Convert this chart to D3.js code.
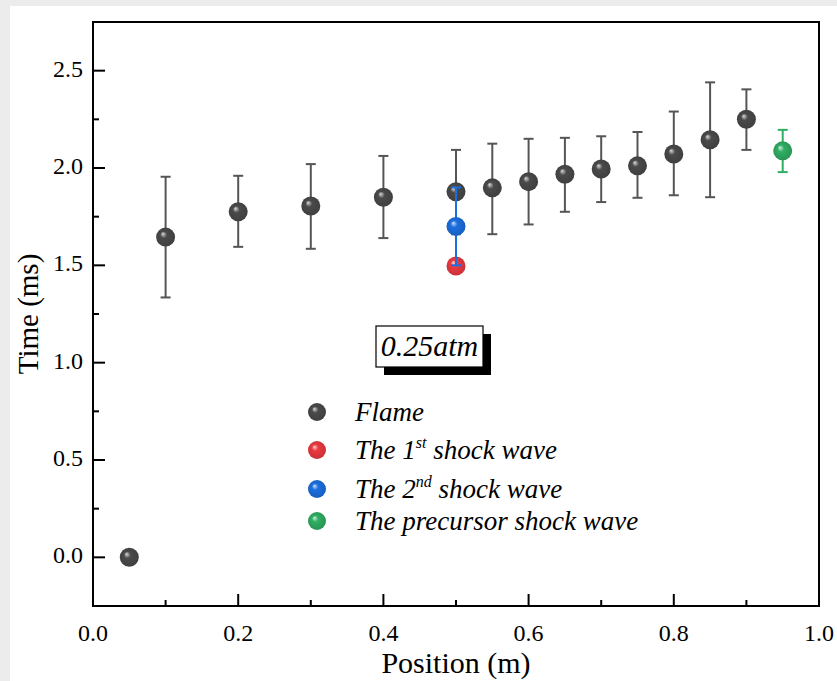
<!DOCTYPE html>
<html>
<head>
<meta charset="utf-8">
<script src="https://cdn.jsdelivr.net/npm/d3@7"></script>
<style>
  html, body { margin: 0; padding: 0; background: #ececec; }
  svg { display: block; }
</style>
</head>
<body>
<script>
var width = 837,
    height = 681;

// flame arrival times with error bar limits
var flameX   = [0.05, 0.1, 0.2, 0.3, 0.4, 0.5, 0.55, 0.6, 0.65, 0.7, 0.75, 0.8, 0.85, 0.9];
var flameY   = [0.0, 1.645, 1.775, 1.805, 1.85, 1.878, 1.898, 1.93, 1.968, 1.995, 2.011, 2.072, 2.145, 2.25];
var flameLo  = [null, 1.335, 1.595, 1.585, 1.64, 1.66, 1.66, 1.71, 1.775, 1.825, 1.847, 1.86, 1.85, 2.093];
var flameHi  = [null, 1.955, 1.96, 2.02, 2.062, 2.093, 2.125, 2.15, 2.155, 2.163, 2.185, 2.29, 2.44, 2.404];

var shock1 = [{x: 0.5, y: 1.497}];
var shock2 = [{x: 0.5, y: 1.70, lo: 1.50, hi: 1.90}];
var precursor = [{x: 0.95, y: 2.088, lo: 1.979, hi: 2.196}];

var xTicks = [0.0, 0.2, 0.4, 0.6, 0.8, 1.0];
var yTicks = [0.0, 0.5, 1.0, 1.5, 2.0, 2.5];

var legendNames = ["Flame", "The 1|st| shock wave", "The 2|nd| shock wave", "The precursor shock wave"];
var colors = ["#4a4a4a", "#ec3a40", "#1c6fe0", "#2fae63"];

var font = "'Liberation Serif', 'Times New Roman', Tinos, 'DejaVu Serif', serif";

var margin = {left: 93, right: 18, top: 22, bottom: 75};

var x = d3.scaleLinear().domain([0, 1.0]).range([margin.left, width - margin.right]);
var y = d3.scaleLinear().domain([-0.25, 2.75]).range([height - margin.bottom, margin.top]);

var svg = d3.select("body").append("svg")
    .attr("width", width)
    .attr("height", height)
    .attr("font-family", font);

svg.append("rect")
    .attr("x", 10).attr("y", 6)
    .attr("width", width - 10).attr("height", height - 6)
    .attr("fill", "#fff");

// sphere shading
var defs = svg.append("defs");
colors.forEach(function(c, i) {
  var g = defs.append("radialGradient")
      .attr("id", "ball" + i)
      .attr("cx", "50%").attr("cy", "50%").attr("r", "55%")
      .attr("fx", "35%").attr("fy", "32%");
  g.append("stop").attr("offset", "0%").attr("stop-color", d3.interpolateRgb(c, "#fff")(0.8));
  g.append("stop").attr("offset", "32%").attr("stop-color", c);
  g.append("stop").attr("offset", "100%").attr("stop-color", d3.color(c).darker(0.5));
});

var flame = flameX.map(function(d, i) {
  return {x: d, y: flameY[i], lo: flameLo[i], hi: flameHi[i]};
});

// axes (inward ticks)
var xAxis = svg.append("g")
    .attr("transform", "translate(0," + y(-0.25) + ")");
xAxis.selectAll(".major").data(xTicks).enter().append("line")
    .attr("x1", function(d) { return x(d); }).attr("x2", function(d) { return x(d); })
    .attr("y1", 0).attr("y2", -12)
    .attr("stroke", "#000").attr("stroke-width", 2);
xAxis.selectAll(".minor").data(d3.range(0.1, 1.0, 0.2)).enter().append("line")
    .attr("x1", function(d) { return x(d); }).attr("x2", function(d) { return x(d); })
    .attr("y1", 0).attr("y2", -6)
    .attr("stroke", "#000").attr("stroke-width", 2);
xAxis.selectAll("text").data(xTicks).enter().append("text")
    .attr("x", function(d) { return x(d); })
    .attr("y", 35)
    .attr("text-anchor", "middle")
    .attr("font-size", 24)
    .text(function(d) { return d3.format(".1f")(d); });

var yAxis = svg.append("g")
    .attr("transform", "translate(" + x(0) + ",0)");
yAxis.selectAll(".major").data(yTicks).enter().append("line")
    .attr("y1", function(d) { return y(d); }).attr("y2", function(d) { return y(d); })
    .attr("x1", 0).attr("x2", 12)
    .attr("stroke", "#000").attr("stroke-width", 2);
yAxis.selectAll(".minor").data(d3.range(-0.25, 2.75, 0.5)).enter().append("line")
    .attr("y1", function(d) { return y(d); }).attr("y2", function(d) { return y(d); })
    .attr("x1", 0).attr("x2", 6)
    .attr("stroke", "#000").attr("stroke-width", 2);
yAxis.selectAll("text").data(yTicks).enter().append("text")
    .attr("x", -10)
    .attr("y", function(d) { return y(d) + 6; })
    .attr("text-anchor", "end")
    .attr("font-size", 24)
    .text(function(d) { return d3.format(".1f")(d); });

// frame
svg.append("rect")
    .attr("x", x(0)).attr("y", y(2.75))
    .attr("width", x(1) - x(0)).attr("height", y(-0.25) - y(2.75))
    .attr("fill", "none").attr("stroke", "#000").attr("stroke-width", 2);

svg.append("text")
    .attr("x", (x(0) + x(1)) / 2)
    .attr("y", 673)
    .attr("text-anchor", "middle")
    .attr("font-size", 30)
    .text("Position (m)");

svg.append("text")
    .attr("transform", "translate(38," + y(1.25) + ") rotate(-90)")
    .attr("text-anchor", "middle")
    .attr("font-size", 29)
    .text("Time (ms)");

// error bars
function errorBars(data, color) {
  var g = svg.append("g").attr("stroke", color).attr("stroke-width", 2);
  data.filter(function(d) { return d.lo != null; }).forEach(function(d) {
    g.append("line")
        .attr("x1", x(d.x)).attr("x2", x(d.x))
        .attr("y1", y(d.lo)).attr("y2", y(d.hi));
    [d.lo, d.hi].forEach(function(v) {
      g.append("line")
          .attr("x1", x(d.x) - 5).attr("x2", x(d.x) + 5)
          .attr("y1", y(v)).attr("y2", y(v));
    });
  });
}

function balls(data, i) {
  svg.append("g").selectAll("circle").data(data).enter().append("circle")
      .attr("cx", function(d) { return x(d.x); })
      .attr("cy", function(d) { return y(d.y); })
      .attr("r", 9.5)
      .attr("fill", "url(#ball" + i + ")");
}

errorBars(flame, "#555");
balls(flame, 0);
balls(shock1, 1);
errorBars(shock2, colors[2]);
balls(shock2, 2);
errorBars(precursor, colors[3]);
balls(precursor, 3);

// pressure label box with shadow
var box = {x: 376, y: 326, w: 107, h: 41};
svg.append("rect")
    .attr("x", box.x + 8).attr("y", box.y + 8)
    .attr("width", box.w).attr("height", box.h)
    .attr("fill", "#000");
svg.append("rect")
    .attr("x", box.x).attr("y", box.y)
    .attr("width", box.w).attr("height", box.h)
    .attr("fill", "#fff").attr("stroke", "#000").attr("stroke-width", 1.2);
svg.append("text")
    .attr("x", box.x + box.w / 2)
    .attr("y", box.y + 30)
    .attr("text-anchor", "middle")
    .attr("font-size", 30)
    .attr("font-style", "italic")
    .text("0.25atm");

// legend
var legend = svg.append("g");
var rowY = [412, 450, 489, 521];
legendNames.forEach(function(name, i) {
  legend.append("circle")
      .attr("cx", 317).attr("cy", rowY[i])
      .attr("r", 9)
      .attr("fill", "url(#ball" + i + ")");
  var t = legend.append("text")
      .attr("x", 355).attr("y", rowY[i] + 9)
      .attr("font-size", 27)
      .attr("font-style", "italic");
  name.split("|").forEach(function(part, j) {
    var s = t.append("tspan").text(part);
    if (j === 1) s.attr("font-size", 16).attr("dy", -11);
    if (j === 2) s.attr("dy", 11);
  });
});
</script>
</body>
</html>
